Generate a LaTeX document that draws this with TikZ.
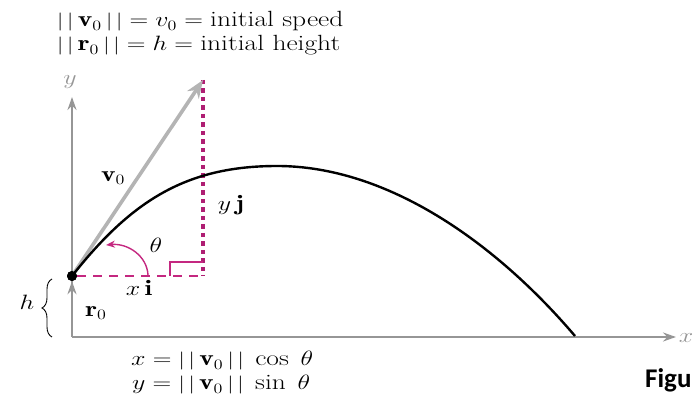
\documentclass[tikz,border=0pt]{standalone}
\usepackage{amsmath,amssymb}
\usepackage{fontspec}
\newfontfamily\figfont{Carlito}
\usetikzlibrary{arrows.meta,decorations.pathreplacing}
\definecolor{axisgray}{RGB}{150,150,150}
\definecolor{vecgray}{RGB}{180,180,180}
\definecolor{guidepink}{RGB}{196,40,128}
\definecolor{guidedark}{RGB}{175,30,115}
\newcommand{\wide}[1]{\scalebox{1.25}[1]{#1}}
\newcommand{\bars}{\text{\fontsize{18}{19}\selectfont|\,|}}
\newcommand{\nrm}[1]{\bars\,#1\,\bars}

\begin{document}
\begin{tikzpicture}[x=1pt, y=-1pt, >=Stealth,
    txt/.style={font=\fontsize{22}{26}\selectfont, inner sep=0pt},
    axis/.style={draw=axisgray, line width=2.4pt, -{Stealth[length=13pt,width=9pt]}},
    vec/.style={draw=vecgray, line width=3.6pt, -{Stealth[length=18pt,width=14pt]}},
    guide/.style={draw=guidepink, line width=1.4pt},
    brace/.style={decorate, decoration={brace, amplitude=10pt}, line width=0.9pt}]

    \useasboundingbox (0,0) rectangle (694,403);

    % --- AXES ---
    \coordinate (O) at (72,337);
    \coordinate (ytip) at (72,97);
    \coordinate (xtip) at (676,337);
    \draw[axis] (O) -- (ytip);
    \draw[axis] (O) -- (xtip);
    \node[txt, text=axisgray] (ylab) at (70,82) {\wide{$y$}};
    \node[txt, text=axisgray] (xlab) at (686,338) {\wide{$x$}};

    % launch point and r0
    \node[circle, fill=black, inner sep=0pt, minimum size=10pt] (launch) at (72,276) {};
    \draw[axis] (O) -- (launch.south);
    \draw[brace] (52,337) -- (52,279);
    \node[txt] (hlab) at (27,302) {\wide{$h$}};
    \node[txt] (rlab) at (96,313) {\wide{$\mathbf{r}_0$}};

    % --- v0 AND ITS COMPONENTS ---
    \coordinate (vtip) at (203,80);
    \coordinate (foot) at (203,276);
    \draw[draw=guidedark, line width=3.2pt, dash pattern=on 4.5pt off 4pt] (vtip) -- (foot);
    \draw[guide, dash pattern=on 9pt off 7pt] (launch) -- (foot);
    \draw[guide] (170,276) |- (203,262);
    \draw[vec] (launch.center) -- (vtip);
    \node[txt] (vlab) at (113,178) {\wide{$\mathbf{v}_0$}};
    \node[txt] (yjlab) at (231,205) {\wide{$y\,\mathbf{j}$}};
    \node[txt] (xilab) at (139,288) {\wide{$x\,\mathbf{i}$}};

    % angle theta
    \draw[guide, -{Stealth[length=9pt,width=7pt]}] (148,275) .. controls (147,256) and (128,243) .. (106,245);
    \node[txt] (thlab) at (156,245) {\wide{$\theta$}};

    % --- PATH ---
    \coordinate (peak) at (277,166);
    \coordinate (land) at (575,336);
    \draw[line width=2.4pt] (launch.center) .. controls (132,200) and (187,166) .. (peak)
        .. controls (387,166) and (495,242) .. (land);
    \node[circle, fill=black, inner sep=0pt, minimum size=10pt] at (launch) {};

    % --- TEXT ---
    \node[txt, anchor=base west] (speed) at (57,27)
        {\wide{$\nrm{\mathbf{v}_0} = v_0 = \text{initial speed}$}};
    \node[txt, anchor=base west] (height) at (57,51)
        {\wide{$\nrm{\mathbf{r}_0} = h = \text{initial height}$}};
    \node[txt, anchor=base west] (xeq) at (131,366)
        {\wide{$x = \nrm{\mathbf{v}_0}\;\cos\;\theta$}};
    \node[txt, anchor=base west] (yeq) at (132,390)
        {\wide{$y = \nrm{\mathbf{v}_0}\;\sin\;\theta$}};
    \node[font=\figfont\bfseries\fontsize{27}{30}\selectfont, anchor=base west, inner sep=0pt]
        (fig) at (645,388) {Figu};

\end{tikzpicture}
\end{document}
